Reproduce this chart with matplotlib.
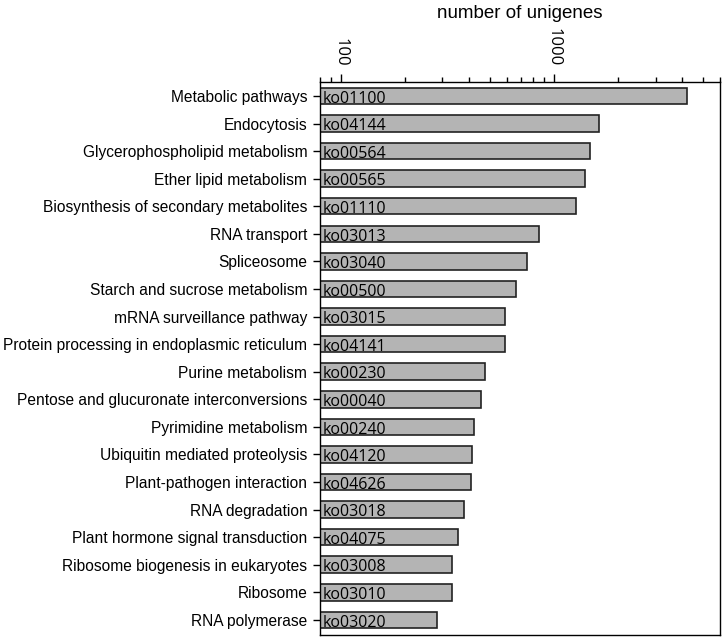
import numpy as np
import matplotlib.pyplot as plt
from matplotlib.ticker import LogLocator, NullFormatter, FixedLocator, FixedFormatter

pathways = [
    "Metabolic pathways",
    "Endocytosis",
    "Glycerophospholipid metabolism",
    "Ether lipid metabolism",
    "Biosynthesis of secondary metabolites",
    "RNA transport",
    "Spliceosome",
    "Starch and sucrose metabolism",
    "mRNA surveillance pathway",
    "Protein processing in endoplasmic reticulum",
    "Purine metabolism",
    "Pentose and glucuronate interconversions",
    "Pyrimidine metabolism",
    "Ubiquitin mediated proteolysis",
    "Plant-pathogen interaction",
    "RNA degradation",
    "Plant hormone signal transduction",
    "Ribosome biogenesis in eukaryotes",
    "Ribosome",
    "RNA polymerase",
]
ko_ids = ["ko01100", "ko04144", "ko00564", "ko00565", "ko01110", "ko03013",
          "ko03040", "ko00500", "ko03015", "ko04141", "ko00230", "ko00040",
          "ko00240", "ko04120", "ko04626", "ko03018", "ko04075", "ko03008",
          "ko03010", "ko03020"]
unigenes = [4230, 1623, 1484, 1406, 1277, 854, 748, 664, 588, 588,
            474, 456, 424, 414, 409, 380, 356, 334, 333, 284]

x_min, x_max = 80, 6000

fig = plt.figure(figsize=(7.22, 6.39), dpi=100)
ax = fig.add_axes([0.443, 0.0063, 0.554, 0.866])

y = np.arange(len(pathways))
ax.barh(y, unigenes, height=0.6, left=0, color="#b4b4b4",
        edgecolor="#222222", linewidth=1.2)

for yi, ko in zip(y, ko_ids):
    ax.text(x_min * 1.03, yi + 0.1, ko, ha="left", va="center",
            fontsize=11.5, family="Open Sans", color="black")

ax.set_xscale("log")
ax.set_xlim(x_min, x_max)
ax.set_ylim(len(pathways) - 0.45, -0.52)

ax.xaxis.tick_top()
ax.xaxis.set_major_locator(FixedLocator([100, 1000]))
ax.xaxis.set_major_formatter(FixedFormatter(["100", "1000"]))
ax.xaxis.set_minor_locator(LogLocator(base=10, subs=np.arange(2, 10)))
ax.xaxis.set_minor_formatter(NullFormatter())
for lab in ax.get_xticklabels():
    lab.set_rotation(-90)
    lab.set_fontfamily("Open Sans")
    lab.set_fontsize(12)
ax.tick_params(axis="x", which="major", length=6, width=1, pad=5)
ax.tick_params(axis="x", which="minor", length=3.5, width=1)

# axis title placed above the rotated tick labels
fig.text(0.72, 1 - 14 / 639, "number of unigenes", ha="center", va="center",
         fontsize=13.5, family="Liberation Sans")

ax.set_yticks(y)
ax.set_yticklabels(pathways, fontsize=11.2, family="Liberation Sans")
ax.tick_params(axis="y", length=5, width=1, pad=4)

for s in ax.spines.values():
    s.set_linewidth(1.0)

fig.savefig("out.png", dpi=100)
